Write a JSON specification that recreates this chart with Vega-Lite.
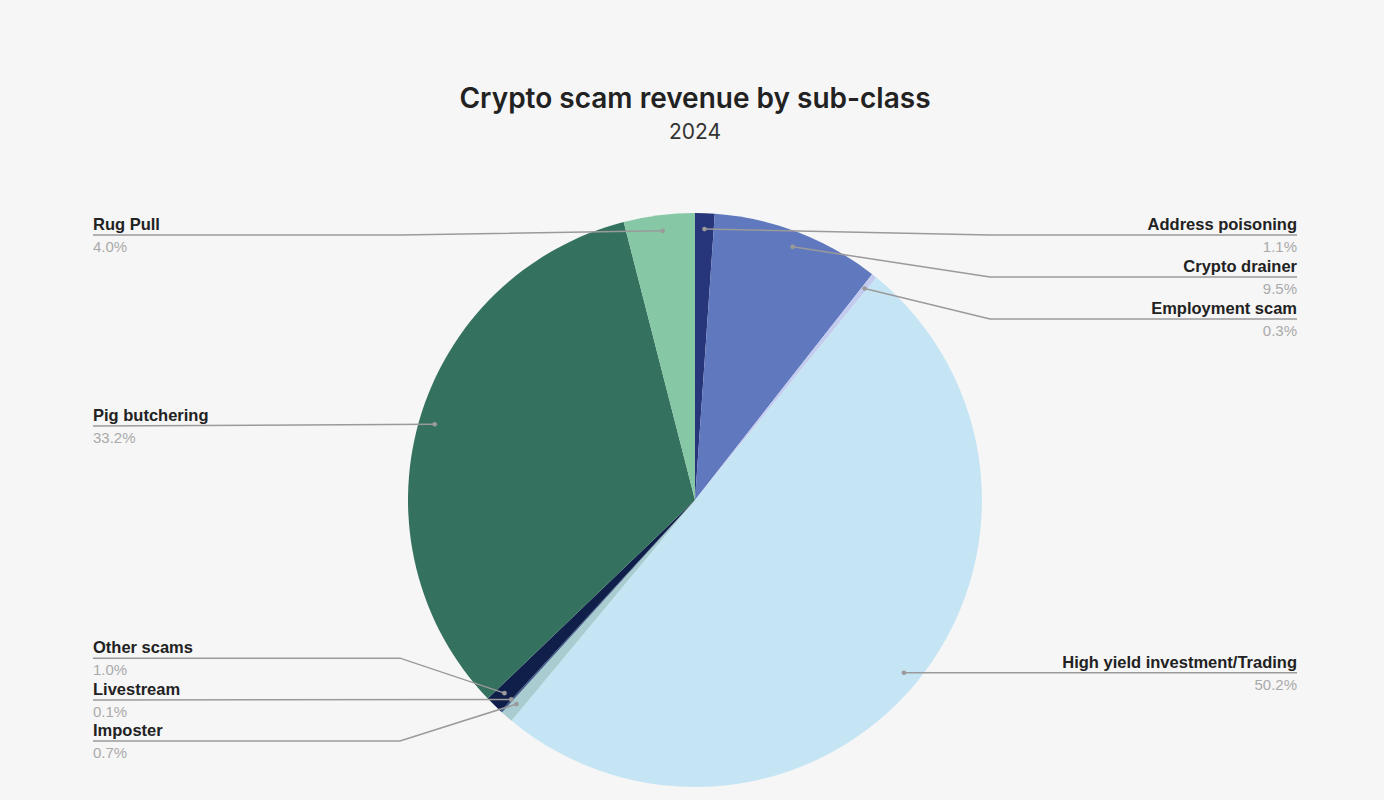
{
  "$schema": "https://vega.github.io/schema/vega-lite/v6.json",
  "width": 1204,
  "height": 574,
  "autosize": {"type": "none"},
  "padding": {"left": 93, "top": 213, "right": 87, "bottom": 13},
  "background": "#f6f6f6",
  "config": {"view": {"stroke": null}},
  "title": {
    "text": "Crypto scam revenue by sub-class",
    "subtitle": "2024",
    "anchor": "middle",
    "frame": "group",
    "font": "Inter",
    "fontSize": 28,
    "fontWeight": 600,
    "color": "#222222",
    "subtitleFont": "Inter",
    "subtitleFontSize": 21,
    "subtitleColor": "#333333",
    "subtitlePadding": 8,
    "offset": 70
  },
  "datasets": {
    "slices": [
      {"category": "Address poisoning", "share": 1.1},
      {"category": "Crypto drainer", "share": 9.5},
      {"category": "Employment scam", "share": 0.3},
      {"category": "High yield investment/Trading", "share": 50.2},
      {"category": "Imposter", "share": 0.7},
      {"category": "Livestream", "share": 0.1},
      {"category": "Other scams", "share": 1.0},
      {"category": "Pig butchering", "share": 33.2},
      {"category": "Rug Pull", "share": 4.0}
    ],
    "labels": [
      {"category": "Address poisoning", "pct": "1.1%", "side": "right", "x": 2.0976, "y": 0.923},
      {"category": "Crypto drainer", "pct": "9.5%", "side": "right", "x": 2.0976, "y": 0.777},
      {"category": "Employment scam", "pct": "0.3%", "side": "right", "x": 2.0976, "y": 0.631},
      {"category": "High yield investment/Trading", "pct": "50.2%", "side": "right", "x": 2.0976, "y": -0.602},
      {"category": "Rug Pull", "pct": "4.0%", "side": "left", "x": -2.0976, "y": 0.923},
      {"category": "Pig butchering", "pct": "33.2%", "side": "left", "x": -2.0976, "y": 0.258},
      {"category": "Other scams", "pct": "1.0%", "side": "left", "x": -2.0976, "y": -0.551},
      {"category": "Livestream", "pct": "0.1%", "side": "left", "x": -2.0976, "y": -0.697},
      {"category": "Imposter", "pct": "0.7%", "side": "left", "x": -2.0976, "y": -0.840}
    ],
    "leaders": [
      {"category": "Address poisoning", "step": 0, "x": 0.033, "y": 0.944},
      {"category": "Address poisoning", "step": 1, "x": 1.028, "y": 0.923},
      {"category": "Address poisoning", "step": 2, "x": 2.0976, "y": 0.923},
      {"category": "Crypto drainer", "step": 0, "x": 0.340, "y": 0.882},
      {"category": "Crypto drainer", "step": 1, "x": 1.028, "y": 0.777},
      {"category": "Crypto drainer", "step": 2, "x": 2.0976, "y": 0.777},
      {"category": "Employment scam", "step": 0, "x": 0.591, "y": 0.737},
      {"category": "Employment scam", "step": 1, "x": 1.028, "y": 0.631},
      {"category": "Employment scam", "step": 2, "x": 2.0976, "y": 0.631},
      {"category": "High yield investment/Trading", "step": 0, "x": 0.728, "y": -0.602},
      {"category": "High yield investment/Trading", "step": 2, "x": 2.0976, "y": -0.602},
      {"category": "Imposter", "step": 0, "x": -0.622, "y": -0.711},
      {"category": "Imposter", "step": 1, "x": -1.028, "y": -0.840},
      {"category": "Imposter", "step": 2, "x": -2.0976, "y": -0.840},
      {"category": "Livestream", "step": 0, "x": -0.640, "y": -0.695},
      {"category": "Livestream", "step": 2, "x": -2.0976, "y": -0.697},
      {"category": "Other scams", "step": 0, "x": -0.664, "y": -0.673},
      {"category": "Other scams", "step": 1, "x": -1.028, "y": -0.551},
      {"category": "Other scams", "step": 2, "x": -2.0976, "y": -0.551},
      {"category": "Pig butchering", "step": 0, "x": -0.907, "y": 0.264},
      {"category": "Pig butchering", "step": 2, "x": -2.0976, "y": 0.258},
      {"category": "Rug Pull", "step": 0, "x": -0.113, "y": 0.938},
      {"category": "Rug Pull", "step": 1, "x": -1.028, "y": 0.923},
      {"category": "Rug Pull", "step": 2, "x": -2.0976, "y": 0.923}
    ]
  },
  "layer": [
    {
      "data": {"name": "slices"},
      "mark": {"type": "arc", "radius": 287, "stroke": null},
      "encoding": {
        "theta": {"field": "share", "type": "quantitative", "stack": true},
        "order": {"field": "category", "sort": "ascending"},
        "color": {
          "field": "category",
          "type": "nominal",
          "legend": null,
          "scale": {
            "domain": ["Address poisoning", "Crypto drainer", "Employment scam", "High yield investment/Trading", "Imposter", "Livestream", "Other scams", "Pig butchering", "Rug Pull"],
            "range": ["#27357a", "#6078bd", "#c3cbef", "#c5e5f5", "#a9ccd0", "#3d5a8a", "#101f4a", "#35715f", "#86c7a5"]
          }
        }
      }
    },
    {
      "data": {"name": "leaders"},
      "mark": {"type": "line", "color": "#9a9a9a", "strokeWidth": 1.5},
      "encoding": {
        "x": {"field": "x", "type": "quantitative", "axis": null, "scale": {"domain": [-2.0976, 2.0976], "nice": false, "zero": false}},
        "y": {"field": "y", "type": "quantitative", "axis": null, "scale": {"domain": [-1, 1], "nice": false, "zero": false}},
        "detail": {"field": "category"},
        "order": {"field": "step", "type": "quantitative"}
      }
    },
    {
      "data": {"name": "leaders"},
      "transform": [{"filter": "datum.step == 0"}],
      "mark": {"type": "circle", "color": "#9a9a9a", "opacity": 1, "size": 22},
      "encoding": {
        "x": {"field": "x", "type": "quantitative"},
        "y": {"field": "y", "type": "quantitative"}
      }
    },
    {
      "data": {"name": "labels"},
      "transform": [{"filter": "datum.side == 'right'"}],
      "mark": {"type": "text", "align": "right", "baseline": "alphabetic", "dy": -5, "font": "Liberation Sans", "fontSize": 16.5, "fontWeight": "bold", "color": "#222222"},
      "encoding": {
        "x": {"field": "x", "type": "quantitative"},
        "y": {"field": "y", "type": "quantitative"},
        "text": {"field": "category"}
      }
    },
    {
      "data": {"name": "labels"},
      "transform": [{"filter": "datum.side == 'right'"}],
      "mark": {"type": "text", "align": "right", "baseline": "top", "dy": 5, "font": "Liberation Sans", "fontSize": 15, "color": "#aaaaaa"},
      "encoding": {
        "x": {"field": "x", "type": "quantitative"},
        "y": {"field": "y", "type": "quantitative"},
        "text": {"field": "pct"}
      }
    },
    {
      "data": {"name": "labels"},
      "transform": [{"filter": "datum.side == 'left'"}],
      "mark": {"type": "text", "align": "left", "baseline": "alphabetic", "dy": -5, "font": "Liberation Sans", "fontSize": 16.5, "fontWeight": "bold", "color": "#222222"},
      "encoding": {
        "x": {"field": "x", "type": "quantitative"},
        "y": {"field": "y", "type": "quantitative"},
        "text": {"field": "category"}
      }
    },
    {
      "data": {"name": "labels"},
      "transform": [{"filter": "datum.side == 'left'"}],
      "mark": {"type": "text", "align": "left", "baseline": "top", "dy": 5, "font": "Liberation Sans", "fontSize": 15, "color": "#aaaaaa"},
      "encoding": {
        "x": {"field": "x", "type": "quantitative"},
        "y": {"field": "y", "type": "quantitative"},
        "text": {"field": "pct"}
      }
    }
  ]
}
